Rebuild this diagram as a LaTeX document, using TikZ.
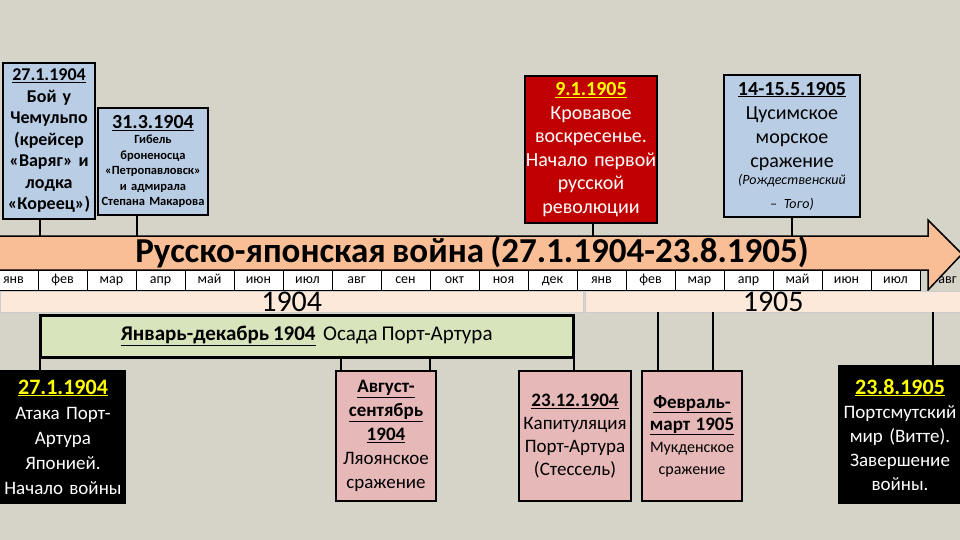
\documentclass[tikz,border=0pt]{standalone}
\usepackage{fontspec}
\setmainfont[WordSpace={0.8,0.3,0.2}]{Carlito}
\definecolor{bg}{RGB}{214,211,201}
\definecolor{lblue}{RGB}{185,205,229}
\definecolor{dred}{RGB}{192,0,0}
\definecolor{pinkb}{RGB}{230,184,184}
\definecolor{lgreen}{RGB}{216,228,188}
\definecolor{arr}{RGB}{250,190,150}
\definecolor{peach}{RGB}{253,233,217}
\definecolor{yel}{RGB}{255,255,0}
\begin{document}
\begin{tikzpicture}[x=1pt,y=-1pt,
  ev/.style={draw=black,line width=2pt,align=center,inner sep=0pt,minimum height=#1},
  ev/.default=130pt,
  conn/.style={line width=2pt,draw=black},
  mon/.style={draw=black,line width=1pt,fill=white,minimum width=49pt,minimum height=20pt,inner sep=0pt,text height=9pt,text depth=2pt,font=\fontsize{14}{14}\selectfont},
  yr/.style={draw=white!80!black,fill=peach,minimum height=21pt,inner sep=0pt,text height=20pt,text depth=0pt,font=\fontsize{30}{30}\selectfont}]
\fill[bg] (0,0) rectangle (960,540);
\useasboundingbox (0,0) rectangle (960,540);
% top boxes
\node[ev=156pt,fill=lblue,text width=92pt,anchor=north west,font=\bfseries\fontsize{18}{21.5}\selectfont] (a) at (2,62) {\underline{27.1.1904}\\Бой у\\Чемульпо\\(крейсер\\«Варяг» и\\лодка\\«Кореец»)};
\node[ev=107pt,fill=lblue,text width=110pt,anchor=north west,font=\bfseries\fontsize{12.5}{15.5}\selectfont] (b) at (97,107) {{\fontsize{20}{22}\selectfont\underline{31.3.1904}}\\Гибель\\броненосца\\«Петропавловск»\\и адмирала\\Степана Макарова};
\node[ev=147pt,fill=dred,text=white,text width=132pt,anchor=north west,font=\fontsize{20}{23.5}\selectfont] (c) at (524,75) {{\bfseries\color{yel}\underline{9.1.1905}}\\Кровавое\\воскресенье.\\Начало первой\\русской\\революции};
\node[ev=142pt,fill=lblue,text width=136pt,anchor=north west,font=\fontsize{20}{24}\selectfont] (d) at (723,74) {{\bfseries\underline{14-15.5.1905}}\\Цусимское\\морское\\сражение\\{\itshape\fontsize{14}{17}\selectfont(Рождественский\\– Того)}};
% arrow
\path[fill=arr,draw=black,line width=1.5pt] (-2,236) -- (928,236) -- (928,220) -- (962,254) -- (928,290) -- (928,270) -- (-2,270) -- cycle;
\node[font=\bfseries\fontsize{35}{35}\selectfont] (title) at (472,252) {Русско-японская война (27.1.1904-23.8.1905)};
\foreach \m [count=\i from 0] in {янв,фев,мар,апр,май,июн,июл,авг,сен,окт,ноя,дек,янв,фев,мар,апр,май,июн,июл}
  \node[mon] (m\i) at ({-11+49*\i+24.5},280) {\m};
\node[mon,minimum width=30pt,anchor=west,fill=none,draw=none] (m19) at (932,280) {авг};
\node[yr,minimum width=583pt,anchor=north west] (y4) at (0,291) {1904};
\node[yr,minimum width=376pt,anchor=north west] (y5) at (585,291) {1905};
% green box
\node[draw=black,line width=2.5pt,fill=lgreen,minimum width=533pt,minimum height=42pt,anchor=north west,font=\fontsize{21}{21}\selectfont] (g) at (39,314) {{\bfseries\underline{Январь-декабрь 1904}}\ \ Осада Порт-Артура};
% bottom boxes
\node[ev=132pt,fill=black,text=white,text width=124pt,anchor=north west,font=\fontsize{19}{25}\selectfont] (e) at (0,370) {{\bfseries\fontsize{22}{25}\selectfont\color{yel}\underline{27.1.1904}}\\Атака Порт-\\Артура\\Японией.\\Начало войны};
\node[ev=130pt,fill=pinkb,text width=100pt,anchor=north west,font=\fontsize{19}{24}\selectfont] (f) at (335,370) {{\bfseries\underline{Август-}}\\{\bfseries\underline{сентябрь}}\\{\bfseries\underline{1904}}\\Ляоянское\\сражение};
\node[ev=130pt,fill=pinkb,text width=112pt,anchor=north west,font=\fontsize{19}{23}\selectfont] (h) at (518,370) {{\bfseries\underline{23.12.1904}}\\Капитуляция\\Порт-Артура\\(Стессель)};
\node[ev=130pt,fill=pinkb,text width=100pt,anchor=north west,font=\fontsize{16}{22}\selectfont] (k) at (641,370) {{\bfseries\fontsize{19}{22}\selectfont\underline{Февраль-}}\\{\bfseries\fontsize{19}{22}\selectfont\underline{март 1905}}\\Мукденское\\сражение};
\node[ev=137pt,fill=black,text=white,text width=122pt,anchor=north west,font=\fontsize{19}{24}\selectfont] (l) at (838,365) {{\bfseries\fontsize{22}{24}\selectfont\color{yel}\underline{23.8.1905}}\\Портсмутский\\мир (Витте).\\Завершение\\войны.};
% connectors
\draw[conn] (a.south -| 40,0) -- (40,236);
\draw[conn] (b.south -| 137,0) -- (137,236);
\draw[conn] (c.south -| 593,0) -- (593,236);
\draw[conn] (d.south -| 792,0) -- (792,236);
\draw[conn] (g.south -| 40,0) -- (e.north -| 40,0);
\draw[conn] (g.south -| 341,0) -- (f.north -| 341,0);
\draw[conn] (g.south -| 430,0) -- (f.north -| 430,0);
\draw[conn] (g.south -| 574,0) -- (h.north -| 574,0);
\draw[conn] (y5.south -| 658,0) -- (k.north -| 658,0);
\draw[conn] (y5.south -| 713,0) -- (k.north -| 713,0);
\draw[conn] (y5.south -| 933,0) -- (l.north -| 933,0);
\end{tikzpicture}
\end{document}
